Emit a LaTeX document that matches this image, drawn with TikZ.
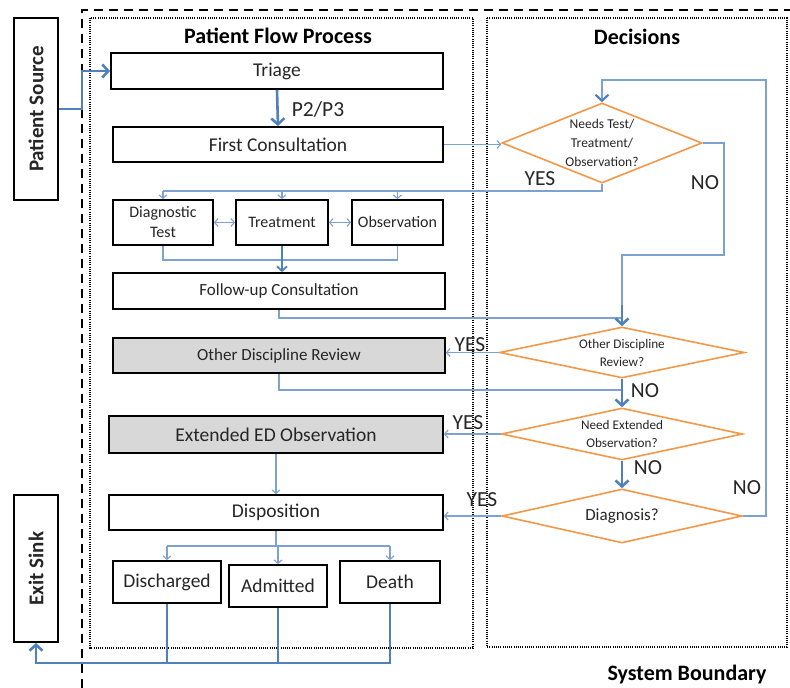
\documentclass[tikz,border=0pt]{standalone}
\usepackage{fontspec}
\setmainfont{Carlito}
\usetikzlibrary{arrows.meta,shapes.geometric,calc}
\definecolor{flowblue}{RGB}{79,129,189}
\definecolor{linkblue}{RGB}{125,162,210}
\definecolor{decor}{RGB}{243,152,72}
\definecolor{boxgray}{RGB}{216,216,216}
\definecolor{txt}{RGB}{38,38,38}
\begin{document}
\begin{tikzpicture}[x=1pt,y=-1pt,
  box/.style={draw=black, line width=1.8pt, fill=white, inner sep=0pt, text=txt, align=center,
    font=\fontsize{19.5}{22}\selectfont},
  graybox/.style={box, fill=boxgray},
  endbox/.style={box, font=\bfseries\fontsize{21}{24}\selectfont},
  dec/.style={diamond, draw=decor, line width=1.6pt, fill=white, inner sep=0pt, align=center, text=txt},
  title/.style={font=\bfseries\fontsize{22}{26}\selectfont, text=black},
  lbl/.style={font=\fontsize{21.5}{24}\selectfont, text=txt, inner sep=0pt},
  flow/.style={draw=flowblue, line width=2.6pt, -{Straight Barb[length=6pt,width=13pt]}},
  flowline/.style={draw=flowblue, line width=2.6pt},
  backflow/.style={draw=linkblue, line width=2.2pt, -{Straight Barb[length=6pt,width=13pt,color=flowblue]}},
  nobranch/.style={draw=linkblue, line width=2.2pt},
  midflow/.style={draw=flowblue, line width=1.8pt, -{Straight Barb[length=4.5pt,width=10pt]}},
  link/.style={draw=linkblue, line width=1.1pt, -{Straight Barb[length=3.5pt,width=8pt]}},
  linkboth/.style={draw=linkblue, line width=1.1pt, {Straight Barb[length=3.5pt,width=8pt]}-{Straight Barb[length=3.5pt,width=8pt]}},
  linkline/.style={draw=linkblue, line width=1.1pt}
]
\useasboundingbox (0,0) rectangle (790,688);

% system boundary and the two dotted panels
\draw[line width=2pt, dash pattern=on 9pt off 6pt] (82,688) -- (82,10) -- (790,10);
\draw[line width=1.3pt, dash pattern=on 1pt off 1.2pt] (90,18) rectangle (473,648);
\draw[line width=1.3pt, dash pattern=on 1pt off 1.2pt] (487,18) rectangle (787,647);
\node[title] (tflow) at (278,36) {Patient Flow Process};
\node[title] (tdec) at (637,37) {Decisions};
\node[title] (tsys) at (687,675) {System Boundary};

% source and sink (upright boxes, text turned)
\node[endbox, minimum width=44pt, minimum height=182pt] (src) at (36,109) {\rotatebox{90}{Patient Source}};
\node[endbox, minimum width=44pt, minimum height=147pt] (exit) at (36,568.5) {\rotatebox{90}{Exit Sink}};

% process boxes
\node[box, minimum width=332pt, minimum height=36pt] (triage) at (277,71) {Triage};
\node[box, minimum width=330pt, minimum height=35pt] (fc) at (278,144.5) {First Consultation};
\node[box, minimum width=100pt, minimum height=45pt, font=\fontsize{16}{20}\selectfont] (diag) at (163,222.5) {Diagnostic\\Test};
\node[box, minimum width=92pt, minimum height=45pt, font=\fontsize{16}{20}\selectfont] (treat) at (282,222.5) {Treatment};
\node[box, minimum width=91pt, minimum height=45pt, font=\fontsize{16}{20}\selectfont] (obs) at (397.5,222.5) {Observation};
\node[box, minimum width=332pt, minimum height=36pt, font=\fontsize{17}{20}\selectfont] (fu) at (279,291) {Follow-up Consultation};
\node[graybox, minimum width=332pt, minimum height=35pt, font=\fontsize{17}{20}\selectfont] (odr) at (279,355.5) {Other Discipline Review};
\node[graybox, minimum width=334pt, minimum height=37pt, font=\fontsize{19.5}{22}\selectfont] (eedo) at (276,434.5) {Extended ED Observation};
\node[box, minimum width=334pt, minimum height=35pt] (disp) at (276,512.5) {Disposition};
\node[box, minimum width=108pt, minimum height=42pt] (disch) at (167,582) {Discharged};
\node[box, minimum width=98pt, minimum height=42pt] (adm) at (278,586) {Admitted};
\node[box, minimum width=100pt, minimum height=42pt] (death) at (390,582) {Death};

% decisions
\node[dec, aspect=2.5, minimum width=200pt, minimum height=80pt, font=\fontsize{13.5}{19}\selectfont] (d1) at (602,143) {Needs Test/\\Treatment/\\Observation?};
\node[dec, aspect=4.8, minimum width=245pt, minimum height=51pt, font=\fontsize{13.2}{18}\selectfont] (d2) at (622,352.5) {Other Discipline\\Review?};
\node[dec, aspect=4.6, minimum width=241pt, minimum height=52pt, font=\fontsize{13.2}{18}\selectfont] (d3) at (622,434) {Need Extended\\Observation?};
\node[dec, aspect=4.4, minimum width=240pt, minimum height=54pt, font=\fontsize{17}{20}\selectfont] (d4) at (622,516) {Diagnosis?};

% branch labels
\node[lbl] (p23) at (318,109) {P2/P3};
\node[lbl] (yes1) at (540,179) {YES};
\node[lbl] (no1) at (705,183) {NO};
\node[lbl] (yes2) at (470,345) {YES};
\node[lbl] (no2) at (645,391) {NO};
\node[lbl] (yes3) at (468,423) {YES};
\node[lbl] (no3) at (648,468) {NO};
\node[lbl] (yes4) at (482,500) {YES};
\node[lbl] (no4) at (747,488) {NO};

% connectors
\coordinate (srcbend) at (82,109);
\draw[flow] (src.east) -- (srcbend) |- (triage.west);
\draw[flow] (triage.south) -- (fc.north);
\draw[link] (fc.east) -- (fc.east -| d1.west);

\coordinate (ysplit) at (0,191);
\draw[linkline] (d1.south) |- (diag.north |- ysplit);
\foreach \b in {diag,treat,obs} \draw[link] (\b.north |- ysplit) -- (\b.north);
\draw[linkboth] (diag.east) -- (treat.west);
\draw[linkboth] (treat.east) -- (obs.west);

\coordinate (ymerge) at (0,260);
\draw[linkline] (diag.south) |- (obs.south |- ymerge) -- (obs.south);
\draw[midflow] (treat.south) -- (treat.south |- fu.north);

\coordinate (yfu) at (0,318);
\draw[linkline] (fu.south) |- (d2.north |- yfu);
\coordinate (nobend) at (724,255);
\draw[nobranch] (d1.east) -| (nobend) -| ($(d2.north)+(0,-20)$);
\draw[flow] ($(d2.north)+(0,-21)$) -- (d2.north);

\draw[link] (d2.west) -- (d2.west -| odr.east);
\coordinate (yodr) at (0,390);
\draw[linkline] (odr.south) |- (d2.south |- yodr);
\draw[flow] (d2.south) -- (d3.north);

\draw[link] (d3.west) -- (d3.west -| eedo.east);
\draw[link] (eedo.south) -- (disp.north);
\draw[flow] (d3.south) -- (d4.north);

\draw[link] (d4.west) -- (d4.west -| disp.east);
\coordinate (backtop) at (766,80);
\draw[backflow] (d4.east) -| (backtop) -| (d1.north);

\coordinate (ydisp) at (0,546);
\draw[linkline] (disch.north |- ydisp) -- (death.north |- ydisp);
\draw[linkline] (disp.south) -- (disp.south |- ydisp);
\foreach \b in {disch,adm,death} \draw[link] (\b.north |- ydisp) -- (\b.north);

\coordinate (yexit) at (0,663);
\draw[flowline] (disch.south) -- (disch.south |- yexit);
\draw[flowline] (adm.south) -- (adm.south |- yexit);
\draw[flow] (death.south) |- (exit.south |- yexit) -- (exit.south);
\end{tikzpicture}
\end{document}
